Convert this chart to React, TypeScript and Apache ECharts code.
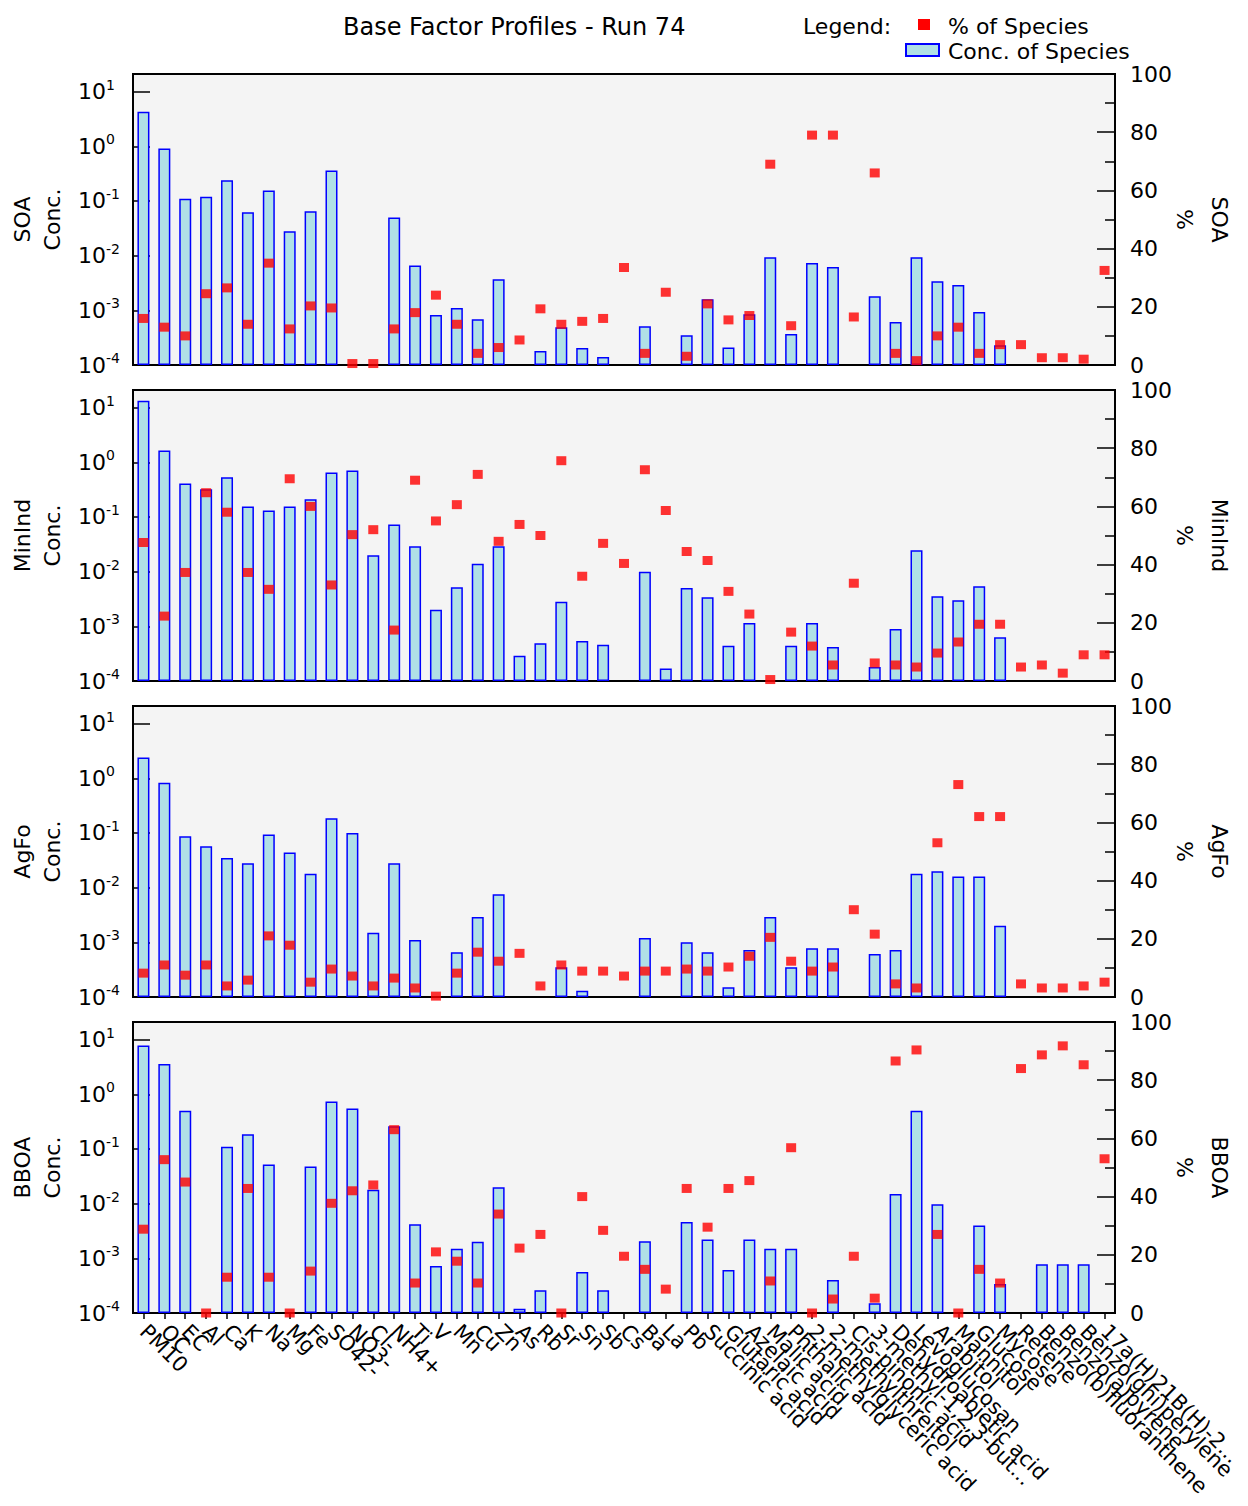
import React, { useEffect, useRef } from 'react';
import * as echarts from 'echarts';

const FONT = 'DejaVu Sans';

const categories = [
  'PM10', 'OC', 'EC', 'Al', 'Ca', 'K', 'Na', 'Mg', 'Fe', 'SO42-', 'NO3-', 'Cl-', 'NH4+',
  'Ti', 'V', 'Mn', 'Cu', 'Zn', 'As', 'Rb', 'Sr', 'Sn', 'Sb', 'Cs', 'Ba', 'La', 'Pb',
  'Succinic acid', 'Glutaric acid', 'Azelaic acid', 'Malic acid', 'Phthalic acid',
  '2-methylglyceric acid', '2-methylthreitol', 'Cis-pinonic acid',
  '3-methyl-1,2,3-butanetricarboxylic acid', 'Dehydroabietic acid', 'Levoglucosan',
  'Arabitol', 'Mannitol', 'Glucose', 'Mycose', 'Retene', 'Benzo(b)fluoranthene',
  'Benzo(a)pyrene', 'Benzo(ghi)perylene', '17a(H)21B(H)-29-norhopane',
];

// label widths (px along the text) for the few labels that run off the page in the reference
const truncatedLabels: Record<string, number> = {
  '3-methyl-1,2,3-butanetricarboxylic acid': 222,
  '17a(H)21B(H)-29-norhopane': 190,
};

const panelNames = ['SOA', 'MinInd', 'AgFo', 'BBOA'];

const soaConc = [4.3, 0.91, 0.11, 0.12, 0.24, 0.062, 0.156, 0.028, 0.065, 0.36, null, null, 0.05,
  0.0066, 0.00082, 0.0011, 0.00069, 0.0037, null, 0.00018, 0.00049, 0.000205, 0.00014, null, 0.00051,
  null, 0.00035, 0.0016, 0.00021, 0.00085, 0.0093, 0.00037, 0.0073, 0.0062, null, 0.0018, 0.00061,
  0.0093, 0.0034, 0.0029, 0.00093, 0.00023, null, null, null, null, null];
const soaPct = [16, 13, 10, 24.5, 26.5, 14, 35, 12.4, 20.3, 19.6, 0.5, 0.5, 12.4, 18, 24, 14, 4, 6,
  8.6, 19.3, 14, 15, 16, 33.5, 4, 25, 3, 21, 15.5, 17, 69, 13.5, 79, 79, 16.5, 66, 4, 1.5, 10, 13, 4,
  7, 7, 2.5, 2.5, 2, 32.5];

const minIndConc = [13.4, 1.65, 0.41, 0.32, 0.53, 0.156, 0.132, 0.156, 0.21, 0.65, 0.71, 0.02, 0.073,
  0.029, 0.002, 0.0052, 0.014, 0.029, 0.00029, 0.00049, 0.0028, 0.00054, 0.00046, null, 0.01, 0.00017,
  0.005, 0.0034, 0.00044, 0.00115, null, 0.00044, 0.00115, 0.00042, null, 0.00018, 0.00089, 0.0245,
  0.00355, 0.003, 0.0054, 0.00063, null, null, null, null, null];
const minIndPct = [47.6, 22.3, 37.3, 64.7, 58, 37.3, 31.5, 69.5, 60, 33, 50.3, 52, 17.5, 69, 55, 60.6,
  71, 48, 53.8, 50, 75.7, 36, 47.3, 40.4, 72.6, 58.6, 44.5, 41.4, 30.8, 23, 0.5, 16.8, 12, 5.5, 33.6,
  6.2, 5.5, 4.8, 9.6, 13.4, 19.5, 19.5, 4.8, 5.5, 2.7, 9, 9];

const agFoConc = [2.4, 0.83, 0.087, 0.057, 0.035, 0.028, 0.094, 0.044, 0.018, 0.185, 0.1, 0.0015,
  0.028, 0.0011, null, 0.00066, 0.0029, 0.0076, null, null, 0.00035, 0.00013, null, null, 0.0012, null,
  0.001, 0.00066, 0.00015, 0.00072, 0.0029, 0.00035, 0.00078, 0.00078, null, 0.00061, 0.00072, 0.018,
  0.02, 0.016, 0.016, 0.002, null, null, null, null, null];
const agFoPct = [8.2, 11, 7.5, 11, 3.8, 5.8, 21, 17.8, 5.1, 9.6, 7.2, 3.8, 6.5, 3.1, 0.3, 8.2, 15.4,
  12.3, 15, 3.8, 11, 8.9, 8.9, 7.2, 8.9, 8.9, 9.6, 8.9, 10.3, 14, 20.5, 12.3, 8.9, 10.3, 30, 21.6, 4.5,
  3.1, 53, 73, 62, 62, 4.5, 3.1, 3.1, 3.8, 5.1];

const bboaConc = [7.8, 3.6, 0.5, null, 0.11, 0.185, 0.052, null, 0.048, 0.74, 0.55, 0.018, 0.26,
  0.0042, 0.00072, 0.0015, 0.002, 0.02, 0.00012, 0.00026, null, 0.00056, 0.00026, null, 0.00205, null,
  0.0046, 0.0022, 0.00061, 0.0022, 0.0015, 0.0015, null, 0.0004, null, 0.00015, 0.015, 0.5, 0.0097,
  null, 0.004, 0.00034, null, 0.00078, 0.00078, 0.00078, null];
const bboaPct = [28.8, 52.7, 45, 0, 12.3, 42.8, 12.3, 0, 14.4, 37.7, 42, 44, 63, 10.3, 21, 17.8, 10.3,
  34, 22.3, 27, 0, 40, 28.4, 19.5, 15, 8.2, 42.8, 29.5, 42.8, 45.5, 11, 56.8, 0, 4.8, 19.5, 5.1, 86.6,
  90.4, 27, 0, 15, 10.3, 84, 88.7, 91.8, 85.3, 53];

const concData = [soaConc, minIndConc, agFoConc, bboaConc];
const pctData = [soaPct, minIndPct, agFoPct, bboaPct];

const percentTicks = { min: 0, max: 100, interval: 20 };
const logRange = { min: 1e-4, max: 21 };

function logLabel(v: number) {
  const l = Math.log10(v);
  const e = Math.round(l);
  if (Math.abs(l - e) > 1e-6) return '';
  return `{b|10}{s|${e}}`;
}

const gridTops = [74, 390, 706, 1022];
const GRID_H = 291;

export default function App() {
  const ref = useRef<HTMLDivElement>(null);
  useEffect(() => {
    if (!ref.current) return;
    const chart = echarts.init(ref.current, undefined, { renderer: 'svg' });
    const grids: any[] = [];
    const xAxes: any[] = [];
    const yAxes: any[] = [];
    const series: any[] = [];
    const textBase = { fontFamily: FONT, color: '#000' };
    const catItems = categories.map((c) =>
      truncatedLabels[c]
        ? { value: c, textStyle: { width: truncatedLabels[c], overflow: 'truncate', ellipsis: '...' } }
        : c
    );
    panelNames.forEach((name, i) => {
      const last = i === panelNames.length - 1;
      grids.push({
        left: 133, width: 982, top: gridTops[i], height: GRID_H,
        containLabel: false, outerBoundsMode: 'none',
        show: true, backgroundColor: '#f4f4f4', borderColor: '#000', borderWidth: 2,
      });
      xAxes.push({
        type: 'category', gridIndex: i, data: catItems, boundaryGap: true,
        axisLine: { lineStyle: { color: '#000', width: 2 } },
        axisTick: { show: last, alignWithLabel: true, length: 6, lineStyle: { color: '#000', width: 1.5 } },
        axisLabel: { show: last, rotate: -45, interval: 0, fontSize: 21, margin: 15, hideOverlap: false, ...textBase },
        splitLine: { show: false },
      });
      yAxes.push({
        type: 'log', gridIndex: i, position: 'left', logBase: 10,
        min: logRange.min, max: logRange.max, startValue: logRange.min,
        axisLine: { show: true, lineStyle: { color: '#000', width: 2 } },
        axisTick: { show: true, inside: true, length: 17, lineStyle: { color: '#000', width: 1.5 } },
        axisLabel: {
          formatter: logLabel, align: 'left', margin: 55, ...textBase,
          rich: {
            b: { fontSize: 22, fontFamily: FONT, color: '#000' },
            s: { fontSize: 14, fontFamily: FONT, color: '#000', padding: [0, 0, 14, 0] },
          },
        },
        splitLine: { show: false },
        name: `${name}\nConc.`, nameLocation: 'middle', nameRotate: 90, nameGap: 66,
        nameMoveOverlap: false,
        nameTextStyle: { fontSize: 22, lineHeight: 30, ...textBase },
      });
      yAxes.push({
        type: 'value', gridIndex: i, position: 'right',
        min: percentTicks.min, max: percentTicks.max, interval: percentTicks.interval,
        axisLine: { show: true, lineStyle: { color: '#000', width: 2 } },
        axisTick: { show: true, inside: true, length: 18, lineStyle: { color: '#000', width: 1.5 } },
        minorTick: { show: true, splitNumber: 2, length: 10, lineStyle: { color: '#000', width: 1.5 } },
        axisLabel: { fontSize: 22, margin: 15, ...textBase },
        splitLine: { show: false }, minorSplitLine: { show: false },
        name: `${name}\n%`, nameLocation: 'middle', nameRotate: -90, nameGap: 52,
        nameMoveOverlap: false,
        nameTextStyle: { fontSize: 22, lineHeight: 35, ...textBase },
      });
      series.push({
        type: 'bar', xAxisIndex: i, yAxisIndex: 2 * i,
        data: concData[i].map((v) => (v == null ? '-' : v)),
        barWidth: 12, z: 2,
        itemStyle: { color: '#b0e0e6', borderColor: '#0000ff', borderWidth: 1.5 },
      });
      series.push({
        type: 'scatter', xAxisIndex: i, yAxisIndex: 2 * i + 1,
        data: pctData[i], symbol: 'rect', symbolSize: [10, 9], z: 3,
        itemStyle: { color: '#ff0000' },
      });
    });

    chart.setOption({
      animation: false,
      backgroundColor: '#ffffff',
      title: {
        text: 'Base Factor Profiles - Run 74', left: 338, top: 10,
        textStyle: { fontSize: 24, fontWeight: 'normal', fontFamily: FONT, color: '#000' },
      },
      grid: grids,
      xAxis: xAxes,
      yAxis: yAxes,
      series,
      graphic: [
        { type: 'text', left: 803, top: 15, style: { text: 'Legend:', fontSize: 22, fontFamily: FONT, fill: '#000' } },
        { type: 'rect', shape: { x: 918, y: 19, width: 12, height: 11 }, style: { fill: '#ff0000' } },
        { type: 'text', left: 948, top: 15, style: { text: '% of Species', fontSize: 22, fontFamily: FONT, fill: '#000' } },
        { type: 'rect', shape: { x: 906, y: 44, width: 33, height: 12 }, style: { fill: '#b0e0e6', stroke: '#0000ff', lineWidth: 2 } },
        { type: 'text', left: 948, top: 40, style: { text: 'Conc. of Species', fontSize: 22, fontFamily: FONT, fill: '#000' } },
      ],
    });
    return () => chart.dispose();
  }, []);
  return (
    <div
      ref={ref}
      style={{ position: 'absolute', left: 0, top: 0, width: 1248, height: 1506, background: '#fff' }}
    />
  );
}
